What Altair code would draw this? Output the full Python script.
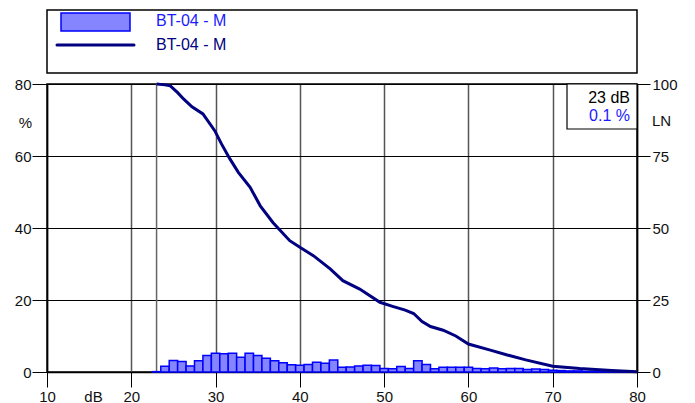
import altair as alt
import pandas as pd

# ---- data ----
series_names = ["BT-04 - M", "BT-04 - M"]

bin_db = list(range(23, 80))
bin_pct = [0.1, 1.6, 3.2, 2.9, 1.7, 3.1, 4.6, 5.2, 5.1, 5.2, 4.1, 5.2, 4.6, 3.8,
           3.1, 2.6, 2.0, 1.9, 2.1, 2.7, 2.4, 3.3, 1.3, 1.4, 1.7, 1.9, 1.8, 1.0,
           0.9, 1.5, 1.0, 3.1, 2.1, 0.9, 1.3, 1.3, 1.3, 1.3, 1.0, 0.9, 1.1, 0.9,
           1.0, 1.0, 0.7, 0.8, 0.7, 0.5, 0.4, 0.3, 0.3, 0.2, 0.2, 0.2, 0.1, 0.1,
           0.1]

ln_db = [23, 24, 24.6, 25.5, 26.2, 27.2, 28.5, 29.9, 30.7, 31.7, 32.7, 34.1,
         35.3, 36.8, 38.8, 40, 41.6, 43.6, 45.1, 47.1, 49.5, 51, 52.5, 53.5,
         54.5, 55.5, 57, 58.5, 60, 62.6, 64.5, 66.8, 70, 73.2, 77, 80]
ln_val = [100, 99.7, 99.4, 97, 94.8, 92.1, 89.6, 83.8, 79.2, 74.0, 69.3, 64.1,
          57.7, 51.9, 45.6, 43.3, 40.4, 35.8, 31.7, 28.8, 24.2, 22.8, 21.5, 20.3,
          17.5, 15.8, 14.5, 12.5, 9.7, 7.6, 6.0, 4.2, 2.0, 1.2, 0.5, 0.1]

marker_db = [23]
marker_pct = [0.1]

x_ticks = [10, 20, 30, 40, 50, 60, 70, 80]
y_left_ticks = [0, 20, 40, 60, 80]
y_right_ticks = [0, 25, 50, 75, 100]

# ---- tables ----
bars_df = pd.DataFrame({"db": bin_db, "pct": bin_pct})
bars_df["lo"] = bars_df["db"] - 0.5
bars_df["hi"] = bars_df["db"] + 0.5
line_df = pd.DataFrame({"db": ln_db, "ln": ln_val})
marker_df = pd.DataFrame({"db": marker_db,
                          "level": [f"{marker_db[0]} dB"],
                          "share": [f"{marker_pct[0]} %"]})
legend_df = pd.DataFrame({"name": [series_names[0]]})
legend_df2 = pd.DataFrame({"name": [series_names[1]]})

FONT = "Liberation Sans"
W, H = 590, 288
BAR_FILL = "#8585ff"
BAR_STROKE = "#0000ff"
LINE_COLOR = "#000080"

x_scale = alt.Scale(domain=[10, 80], nice=False, zero=False)


def x_axis():
    return alt.Axis(values=x_ticks, tickSize=15, labelPadding=2, grid=True,
                    labelFlush=False, labelOverlap=False,
                    gridColor="#555555", gridWidth=1.5, title="dB",
                    titleX=46, titleY=29, titleAngle=0, titleAlign="center",
                    titleBaseline="alphabetic")


rule = alt.Chart(marker_df).mark_rule(color="#666666", strokeWidth=1.5).encode(
    x=alt.X("db:Q", scale=x_scale, axis=x_axis()),
    y=alt.value(0), y2=alt.value(H))

bars = alt.Chart(bars_df).mark_rect(fill=BAR_FILL, stroke=BAR_STROKE,
                                    strokeWidth=1.5).encode(
    x=alt.X("lo:Q", scale=x_scale, axis=x_axis()),
    x2="hi:Q",
    y=alt.Y("pct:Q", scale=alt.Scale(domain=[0, 80], nice=False),
            axis=alt.Axis(values=y_left_ticks, orient="left", tickSize=15,
                          labelPadding=1, grid=True, gridColor="#000000",
                          labelFlush=False, labelOverlap=False,
                          gridWidth=1, title="%", titleAngle=0, titleX=-22,
                          titleY=38, titleAlign="center",
                          titleBaseline="middle")),
    y2=alt.datum(0))

line = alt.Chart(line_df).mark_line(color=LINE_COLOR, strokeWidth=3).encode(
    x=alt.X("db:Q", scale=x_scale, axis=x_axis()),
    y=alt.Y("ln:Q", scale=alt.Scale(domain=[0, 100], nice=False),
            axis=alt.Axis(values=y_right_ticks, orient="right", tickSize=13,
                          labelPadding=2, grid=False, title="LN",
                          labelFlush=False, labelOverlap=False,
                          titleAngle=0, titleX=24, titleY=36,
                          titleAlign="center", titleBaseline="middle")))

box = alt.Chart(marker_df).mark_rect(fill="white", stroke="black",
                                     strokeWidth=1.2).encode(
    x=alt.value(520), x2=alt.value(W), y=alt.value(0), y2=alt.value(45))
box_t1 = alt.Chart(marker_df).mark_text(align="right", baseline="middle",
                                        font=FONT, fontSize=16,
                                        color="#000000").encode(
    x=alt.value(583), y=alt.value(14), text="level:N")
box_t2 = alt.Chart(marker_df).mark_text(align="right", baseline="middle",
                                        font=FONT, fontSize=16,
                                        color="#1a1aff").encode(
    x=alt.value(583), y=alt.value(32), text="share:N")

leg_box = alt.Chart(legend_df).mark_rect(fill="white", stroke="black",
                                         strokeWidth=1.5).encode(
    x=alt.value(0), x2=alt.value(W), y=alt.value(-74), y2=alt.value(-11))
leg_sw = alt.Chart(legend_df).mark_rect(fill=BAR_FILL, stroke=BAR_STROKE,
                                        strokeWidth=1.5).encode(
    x=alt.value(14), x2=alt.value(83), y=alt.value(-71), y2=alt.value(-53))
leg_ln = alt.Chart(legend_df2).mark_rule(color=LINE_COLOR, strokeWidth=3,
                                         strokeCap="round").encode(
    x=alt.value(10), x2=alt.value(87), y=alt.value(-39))
leg_t1 = alt.Chart(legend_df).mark_text(align="left", baseline="middle",
                                        font=FONT, fontSize=16,
                                        color="#1a1aff").encode(
    x=alt.value(109), y=alt.value(-63), text="name:N")
leg_t2 = alt.Chart(legend_df2).mark_text(align="left", baseline="middle",
                                         font=FONT, fontSize=16,
                                         color=LINE_COLOR).encode(
    x=alt.value(109), y=alt.value(-39), text="name:N")

chart = alt.layer(rule, bars, line, box, box_t1, box_t2, leg_box, leg_sw,
                  leg_ln, leg_t1, leg_t2).resolve_scale(
    y="independent"
).properties(
    width=W, height=H,
    padding={"left": 39, "top": 76, "right": 50, "bottom": 31},
    autosize=alt.AutoSizeParams(type="none"),
    background="white",
).configure_view(
    stroke="black", strokeWidth=1.5
).configure_axis(
    labelFont=FONT, labelFontSize=15, labelColor="#111111",
    titleFont=FONT, titleFontSize=15, titleFontWeight="normal",
    titleColor="#111111", domainColor="#000000", domainWidth=1.5,
    tickColor="#000000", tickWidth=1
)

chart.save("out.html", embed_options={"renderer": "svg", "actions": False})
